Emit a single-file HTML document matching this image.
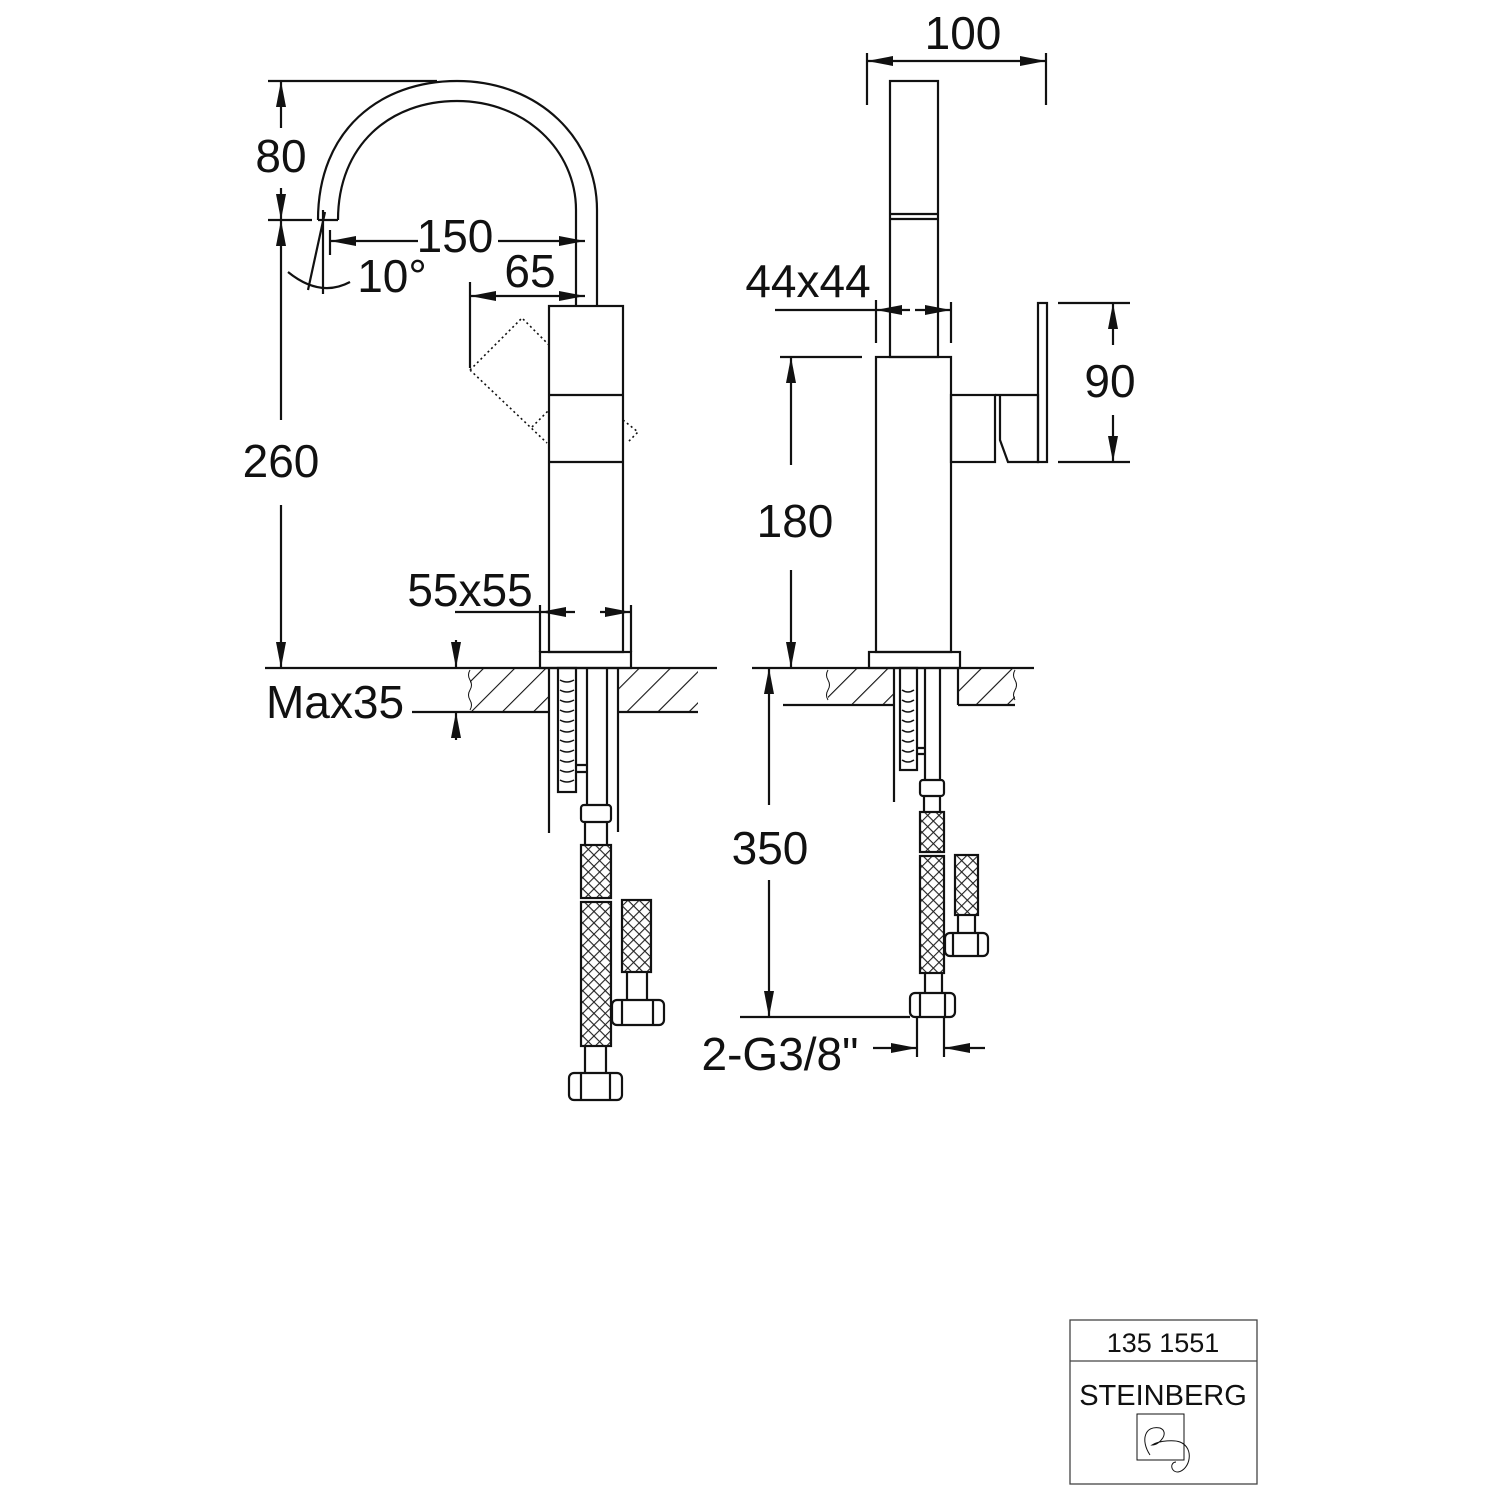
<!DOCTYPE html>
<html><head><style>
html,body{margin:0;padding:0;background:#fff;}
svg{display:block}
text{font-family:"Liberation Sans",sans-serif;fill:#111}
</style></head><body>
<svg width="1500" height="1500" viewBox="0 0 1500 1500" xmlns="http://www.w3.org/2000/svg">
<defs>
<pattern id="hatch" width="22" height="22" patternUnits="userSpaceOnUse" patternTransform="rotate(45)">
<line x1="0" y1="0" x2="0" y2="22" stroke="#111" stroke-width="2.2"/></pattern>
<pattern id="knit" width="8" height="8" patternUnits="userSpaceOnUse" patternTransform="rotate(45)">
<rect width="8" height="8" fill="#fff"/><path d="M0 0H8M0 0V8" stroke="#222" stroke-width="2.2"/></pattern>
<marker id="a" viewBox="0 0 26 10" refX="26" refY="5" markerWidth="26" markerHeight="10" markerUnits="userSpaceOnUse" orient="auto-start-reverse"><path d="M0 0L26 5L0 10z" fill="#111"/></marker>
</defs>
<g fill="none" stroke="#111" stroke-width="2.2">
<!-- LEFT VIEW -->
<path d="M318,220 C318,130 380,81 457,81 C540,81 597,140 597,210 L597,306"/>
<path d="M338,220 C338,145 390,101 457,101 C525,101 576,150 576,210 L576,306"/>
<path d="M318,220 H338"/>
<rect x="549" y="306" width="74" height="346"/>
<path d="M549,395H623M549,462H623"/>
<rect x="540" y="652" width="91" height="16"/>
<path d="M470,370 L522,318 L549,345 M470,370 L547,443 M532,427 L549,410 M623,420 L638,432 L627,443" stroke-dasharray="2 3" stroke-width="1.6"/>
<!-- counter -->
<rect x="470" y="668" width="79" height="44" fill="url(#hatch)" stroke="none"/>
<rect x="618" y="668" width="80" height="44" fill="url(#hatch)" stroke="none"/>
<path d="M265,668H717M412,712H549M618,712H698M549,668V833M618,668V832"/>
<path d="M470,670 q-3,5 0,10 q3,5 0,10 q-3,5 0,10 q3,5 0,10" stroke-width="1"/>
<rect x="558" y="668" width="18" height="124"/>
<path d="M560,680 q7,4 14,0 M560,690 q7,4 14,0 M560,700 q7,4 14,0 M560,710 q7,4 14,0 M560,720 q7,4 14,0 M560,730 q7,4 14,0 M560,740 q7,4 14,0 M560,750 q7,4 14,0 M560,760 q7,4 14,0 M560,770 q7,4 14,0 M560,780 q7,4 14,0" stroke-width="1.5"/>
<path d="M576,765H587M576,772H587"/>
<path d="M587,668V805M607,668V805"/>
<rect x="581" y="805" width="30" height="17" rx="3"/>
<path d="M585,822V845M607,822V845"/>
<rect x="581" y="845" width="30" height="53" fill="url(#knit)"/>
<rect x="581" y="902" width="30" height="144" fill="url(#knit)"/>
<path d="M585,1046V1073M606,1046V1073"/>
<rect x="569" y="1073" width="53" height="27" rx="5"/>
<path d="M581,1073V1100M610,1073V1100"/>
<rect x="622" y="900" width="29" height="72" fill="url(#knit)"/>
<path d="M627,972V1000M647,972V1000"/>
<rect x="612" y="1000" width="52" height="25" rx="5"/>
<path d="M622,1000V1025M653,1000V1025"/>
<!-- left dims -->
<path d="M268,81H437M268,220H312"/>
<path d="M281,128V81" marker-end="url(#a)"/><path d="M281,188V220" marker-end="url(#a)"/>
<path d="M281,420V220" marker-end="url(#a)"/><path d="M281,505V668" marker-end="url(#a)"/>
<path d="M418,241H330" marker-end="url(#a)"/><path d="M498,241H585" marker-end="url(#a)"/>
<path d="M330,230V255"/>
<path d="M470,282V368"/>
<path d="M530,296H470" marker-end="url(#a)"/><path d="M530,296H585" marker-end="url(#a)"/>
<path d="M325,212 L308,290 M323,210 V294"/>
<path d="M288,272 Q320,298 350,282"/>
<path d="M540,605V652M631,605V652"/>
<path d="M455,612H540"/><path d="M575,612H540" marker-end="url(#a)"/><path d="M600,612H631" marker-end="url(#a)"/>
<path d="M456,640V668" marker-end="url(#a)"/><path d="M456,740V712" marker-end="url(#a)"/>
<!-- RIGHT VIEW -->
<rect x="890" y="81" width="48" height="276"/>
<path d="M890,214H938M890,219H938"/>
<rect x="876" y="357" width="75" height="295"/>
<rect x="869" y="652" width="91" height="16"/>
<rect x="951" y="395" width="44" height="67"/>
<path d="M995,395H1038V462H1008L1000,440V395"/>
<rect x="1038" y="303" width="9" height="159"/>
<rect x="828" y="668" width="66" height="37" fill="url(#hatch)" stroke="none"/>
<rect x="958" y="668" width="57" height="37" fill="url(#hatch)" stroke="none"/>
<path d="M752,668H1034M783,705H894M958,705H1015M894,668V802M958,668V705"/>
<path d="M1015,670 q-3,5 0,10 q3,5 0,10 q-3,5 0,10" stroke-width="1"/>
<path d="M828,670 q-3,5 0,10 q3,5 0,10 q-3,5 0,10" stroke-width="1"/>
<rect x="900" y="668" width="17" height="102"/>
<path d="M902,690 q6,4 12,0 M902,700 q6,4 12,0 M902,710 q6,4 12,0 M902,720 q6,4 12,0 M902,730 q6,4 12,0 M902,740 q6,4 12,0 M902,750 q6,4 12,0 M902,760 q6,4 12,0" stroke-width="1.5"/>
<path d="M917,748H925M917,754H925"/>
<path d="M925,668V780M940,668V780"/>
<rect x="920" y="780" width="24" height="16" rx="3"/>
<path d="M924,796V812M940,796V812"/>
<rect x="920" y="812" width="24" height="40" fill="url(#knit)"/>
<rect x="920" y="856" width="24" height="117" fill="url(#knit)"/>
<path d="M925,973V993M942,973V993"/>
<rect x="910" y="993" width="45" height="24" rx="5"/>
<path d="M920,993V1017M945,993V1017"/>
<rect x="955" y="855" width="23" height="60" fill="url(#knit)"/>
<path d="M958,915V933M975,915V933"/>
<rect x="945" y="933" width="43" height="23" rx="5"/>
<path d="M953,933V956M978,933V956"/>
<!-- right dims -->
<path d="M867,53V105M1046,53V105"/>
<path d="M950,61H867" marker-end="url(#a)"/><path d="M950,61H1046" marker-end="url(#a)"/>
<path d="M876,300V343M951,302V343"/>
<path d="M775,310H876"/><path d="M910,310H876" marker-end="url(#a)"/><path d="M915,310H951" marker-end="url(#a)"/>
<path d="M1058,303H1130M1058,462H1130"/>
<path d="M1113,345V303" marker-end="url(#a)"/><path d="M1113,415V462" marker-end="url(#a)"/>
<path d="M780,357H862"/>
<path d="M791,465V357" marker-end="url(#a)"/><path d="M791,570V668" marker-end="url(#a)"/>
<path d="M740,1017H910"/>
<path d="M769,805V668" marker-end="url(#a)"/><path d="M769,880V1017" marker-end="url(#a)"/>
<path d="M917,1017V1057M944,1017V1057"/>
<path d="M873,1048H917" marker-end="url(#a)"/><path d="M985,1048H944" marker-end="url(#a)"/>
<!-- title block -->
<rect x="1070" y="1320" width="187" height="164" stroke-width="1.3" stroke="#444"/>
<path d="M1070,1361H1257" stroke-width="1.3" stroke="#444"/>
<rect x="1137" y="1414" width="47" height="46" stroke-width="1"/>
<path d="M1150,1455 C1140,1440 1145,1425 1160,1428 C1170,1432 1160,1445 1152,1445 C1160,1440 1175,1440 1180,1442 C1195,1448 1190,1470 1178,1472 C1170,1472 1170,1462 1176,1462" stroke-width="1"/>
</g>
<g font-size="46" text-anchor="middle">
<text x="281" y="172">80</text>
<text x="281" y="477">260</text>
<text x="455" y="252">150</text>
<text x="530" y="287">65</text>
<text x="392" y="292">10°</text>
<text x="470" y="606">55x55</text>
<text x="335" y="718">Max35</text>
<text x="963" y="49">100</text>
<text x="808" y="297">44x44</text>
<text x="1110" y="397">90</text>
<text x="795" y="537">180</text>
<text x="770" y="864">350</text>
<text x="780" y="1070">2-G3/8"</text>
</g>
<text x="1163" y="1352" font-size="27" text-anchor="middle">135 1551</text>
<text x="1163" y="1405" font-size="29" text-anchor="middle" style="font-weight:300">STEINBERG</text>
</svg>
</body></html>
